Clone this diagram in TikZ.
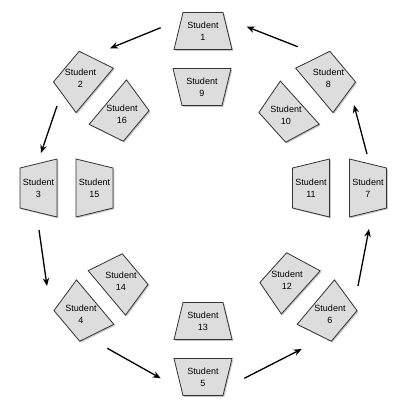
\documentclass[tikz,border=0pt]{standalone}
\usepackage{fontspec}
\setmainfont{Liberation Sans}
\usetikzlibrary{arrows.meta}
\definecolor{boxfill}{HTML}{DDDDDD}
\definecolor{boxline}{HTML}{333333}
\definecolor{shadowc}{HTML}{C8C8C8}
\tikzset{
  stxt/.style={align=center, font=\fontsize{9}{12}\selectfont, inner sep=0pt},
  trap/.style={fill=boxfill, draw=boxline, line width=0.8pt, line join=miter},
  trapshadow/.style={fill=shadowc},
  flow/.style={line width=1.3pt, -{Stealth[length=8pt,width=6.5pt]}}
}
\newcommand\studbox[5]{%
  \begin{scope}[shift={(#2+1.3,#3+1.3)}, rotate=#4]
    \fill[trapshadow] (-20,-18.5) -- (20,-18.5) -- (29,18.5) -- (-29,18.5) -- cycle;
  \end{scope}
  \begin{scope}[shift={(#2,#3)}, rotate=#4]
    \path[trap] (-20,-18.5) -- (20,-18.5) -- (29,18.5) -- (-29,18.5) -- cycle;
  \end{scope}
  \node[stxt] (#1) at (#2,#3) {Student\\#5};
}
\begin{document}
\begin{tikzpicture}[x=1pt,y=-1pt]
\useasboundingbox (0,0) rectangle (408,405);
% outer ring
\studbox{s1}{203}{31}{0}{1}
\studbox{s2}{80.5}{78.5}{50}{2}
\studbox{s3}{38.5}{188}{90}{3}
\studbox{s4}{81}{314}{130}{4}
\studbox{s5}{203}{377}{180}{5}
\studbox{s6}{330}{314}{-130}{6}
\studbox{s7}{368}{188}{-90}{7}
\studbox{s8}{328.5}{78.5}{-50}{8}
% inner ring
\studbox{s9}{202}{87}{180}{9}
\studbox{s16}{122}{114}{-130}{16}
\studbox{s15}{94.5}{188}{-90}{15}
\studbox{s14}{121}{281}{-50}{14}
\studbox{s13}{203}{321}{0}{13}
\studbox{s12}{287}{280}{48}{12}
\studbox{s11}{311}{188}{90}{11}
\studbox{s10}{286}{115}{132}{10}
% arrow end points
\coordinate (a1) at (160.7,27.7);  \coordinate (b1) at (110,48.3);
\coordinate (a2) at (57,106);      \coordinate (b2) at (41,153);
\coordinate (a3) at (39,230);      \coordinate (b3) at (47,286);
\coordinate (a4) at (107.3,348.3); \coordinate (b4) at (160.7,378.3);
\coordinate (a5) at (244.3,378.3); \coordinate (b5) at (301.7,349);
\coordinate (a6) at (358,286);     \coordinate (b6) at (369,229);
\coordinate (a7) at (367,154);     \coordinate (b7) at (354,105);
\coordinate (a8) at (297.7,46.7);  \coordinate (b8) at (246.7,26.7);
\draw[flow] (a1) -- (b1);
\draw[flow] (a2) -- (b2);
\draw[flow] (a3) -- (b3);
\draw[flow] (a4) -- (b4);
\draw[flow] (a5) -- (b5);
\draw[flow] (a6) -- (b6);
\draw[flow] (a7) -- (b7);
\draw[flow] (a8) -- (b8);
\end{tikzpicture}
\end{document}
